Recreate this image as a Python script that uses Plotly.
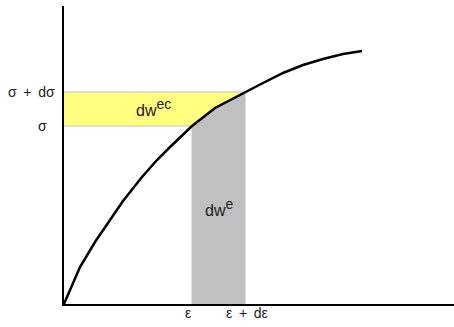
import numpy as np
import plotly.graph_objects as go

# Stress-strain curve (arbitrary units)
strain = [0, 16, 31, 43, 59, 78, 93, 104, 128, 151, 181, 199, 219, 239, 259, 279, 298]
stress = [0, 37, 62, 80, 103, 127, 144, 155, 178, 196, 212, 221, 231, 239, 245, 250, 253]

eps, deps = 128, 53
sig, dsig = 178, 34

x_max, y_max = 390, 298

strain_a = np.array(strain, dtype=float)
stress_a = np.array(stress, dtype=float)

# curve segment between eps and eps+deps
mask = (strain_a > eps) & (strain_a < eps + deps)
seg_x = [eps] + list(strain_a[mask]) + [eps + deps]
seg_y = ([float(np.interp(eps, strain_a, stress_a))] + list(stress_a[mask])
         + [float(np.interp(eps + deps, strain_a, stress_a))])

fig = go.Figure()

# complementary energy (yellow): left of curve between sig and sig+dsig
yx = [0] + seg_x + [0]
yy = [seg_y[0]] + seg_y + [seg_y[-1]]
fig.add_trace(go.Scatter(x=yx, y=yy, fill="toself", fillcolor="#FFFF80",
                         mode="lines", line=dict(color="#C0C0C0", width=1),
                         hoverinfo="skip", showlegend=False))

# strain energy (gray): below curve between eps and eps+deps
gx = [eps] + seg_x + [eps + deps, eps]
gy = [0] + seg_y + [0, 0]
fig.add_trace(go.Scatter(x=gx, y=gy, fill="toself", fillcolor="#C0C0C0",
                         mode="lines", line=dict(color="#C0C0C0", width=1),
                         hoverinfo="skip", showlegend=False))

# curve
fig.add_trace(go.Scatter(x=strain, y=stress, mode="lines",
                         line=dict(color="black", width=2.5),
                         hoverinfo="skip", showlegend=False))

font_small = dict(family="Liberation Sans, Arial, sans-serif", size=14, color="#222222")
font_big = dict(family="Liberation Sans, Arial, sans-serif", size=16, color="#222222")

SP = "\u00a0\u2009"
annotations = [
    dict(xref="paper", yref="y", x=-7 / x_max, y=sig + dsig, text="σ" + SP + "+" + SP + "dσ",
         xanchor="right", yanchor="middle", font=font_small),
    dict(xref="paper", yref="y", x=-22 / x_max, y=sig, text="σ",
         xanchor="center", yanchor="middle", font=font_small),
    dict(xref="x", yref="paper", x=eps - 4, y=-9 / y_max, text="ε",
         xanchor="center", yanchor="middle", font=font_small),
    dict(xref="x", yref="paper", x=eps + deps + 2, y=-9 / y_max, text="ε" + SP + "+" + SP + "dε",
         xanchor="center", yanchor="middle", font=font_small),
    dict(xref="x", yref="y", x=89, y=sig + dsig / 2 + 2,
         text="dw<sup><span style='font-size:14px'>ec</span></sup>",
         xanchor="center", yanchor="middle", font=font_big),
    dict(xref="x", yref="y", x=eps + deps / 2, y=97,
         text="dw<sup><span style='font-size:14px'>e</span></sup>",
         xanchor="center", yanchor="middle", font=font_big),
]
for a in annotations:
    a.update(showarrow=False)

fig.update_layout(
    width=454, height=327,
    margin=dict(l=64, r=0, t=6, b=23),
    paper_bgcolor="white", plot_bgcolor="white",
    xaxis=dict(range=[0, x_max], showline=True, linecolor="black", linewidth=2,
               showgrid=False, zeroline=False, showticklabels=False, ticks=""),
    yaxis=dict(range=[0, y_max], showline=True, linecolor="black", linewidth=2,
               showgrid=False, zeroline=False, showticklabels=False, ticks=""),
    annotations=annotations,
)

fig.write_html("out.html", config={"displayModeBar": False},
               post_script="document.body.style.margin='0';document.body.style.overflow='hidden';")
